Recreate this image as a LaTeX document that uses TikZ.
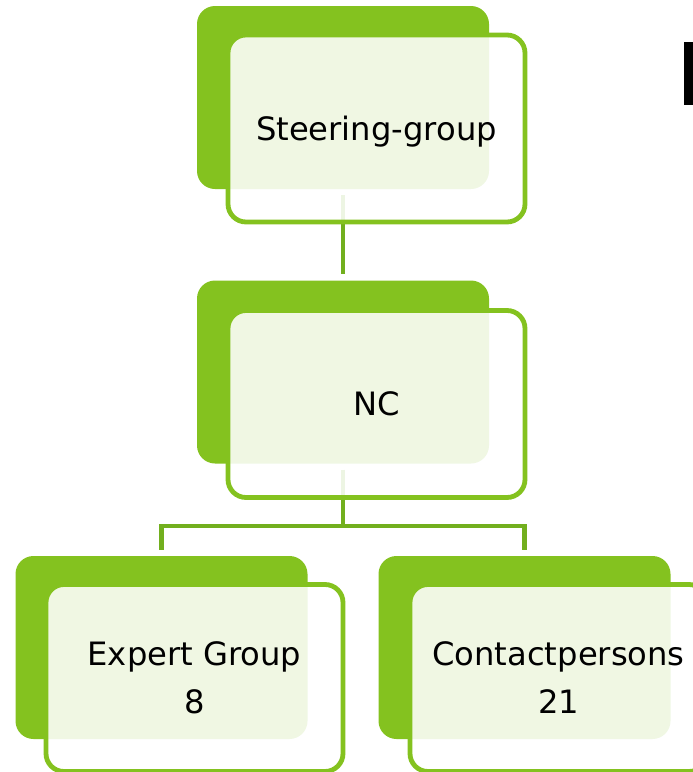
\documentclass[tikz,border=0pt]{standalone}
\usepackage{fontspec}
\setmainfont{DejaVu Sans}
\usetikzlibrary{calc}
\definecolor{boxgreen}{HTML}{84C21F}
\definecolor{linkgreen}{HTML}{72AF1E}
\tikzset{
  backbox/.style={fill=boxgreen, draw=none, rounded corners=18pt,
    minimum width=292pt, minimum height=183pt, inner sep=0pt},
  frontbox/.style={draw=boxgreen, line width=4.8pt, fill=white,
    fill opacity=0.88, text opacity=1, rounded corners=18pt,
    minimum width=297pt, minimum height=187pt, inner sep=0pt,
    align=center, text depth=0pt, font=\fontsize{32.2}{48}\selectfont},
  link/.style={draw=linkgreen, line width=4.8pt},
}
\begin{document}
\begin{tikzpicture}[x=1pt,y=-1pt]
\useasboundingbox (0,0) rectangle (693,772);
\clip (0,0) rectangle (693,772);
% back boxes
\node[backbox] (sgb) at (343,97.5) {};
\node[backbox] (ncb) at (343,372) {};
\node[backbox] (egb) at (161.5,647.5) {};
\node[backbox] (cpb) at (524.5,647.5) {};
% connectors
\coordinate (fork) at (343,526);
\draw[link] ([yshift=-6pt]sgb.south) -- ([yshift=6pt]ncb.north);
\draw[link] ([yshift=-6pt]ncb.south) -- (fork);
\draw[link] ([yshift=6pt]egb.north) -- (egb.north |- fork) -- (cpb.north |- fork) -- ([yshift=6pt]cpb.north);
% front boxes
\node[frontbox] (sg) at (376.5,128.5) {Steering-group};
\node[frontbox] (nc) at (376.5,404) {NC};
\node[frontbox] (eg) at (194.5,678) {Expert Group\\8};
\node[frontbox] (cp) at (558.5,678) {Contactpersons\\21};
% fragment of a large letter at the right edge
\fill[black] (684.3,42) rectangle (693,105);
\end{tikzpicture}
\end{document}
